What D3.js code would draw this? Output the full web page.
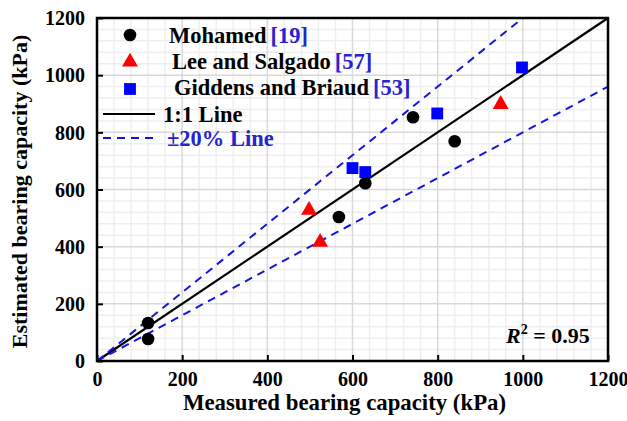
<!DOCTYPE html>
<html>
<head>
<meta charset="utf-8">
<script src="https://cdn.jsdelivr.net/npm/d3@7"></script>
<style>
  html, body { margin: 0; padding: 0; background: #fff; }
  svg { display: block; }
  text { font-family: "Liberation Serif", "Times New Roman", serif; font-weight: bold; }
</style>
</head>
<body>
<svg id="chart" width="627" height="421"></svg>
<script>
// Measured vs estimated bearing capacity (kPa)
const mohamedMeasured = [120, 120, 568, 630, 742, 840];
const mohamedEstimated = [77, 133, 504, 622, 853, 769];
const leeMeasured = [498, 524, 948];
const leeEstimated = [528, 416, 898];
const giddensMeasured = [600, 630, 799, 998];
const giddensEstimated = [675, 661, 866, 1027];
const axisTicks = [0, 200, 400, 600, 800, 1000, 1200];
const rSquared = "0.95";

const blueText = "#2424d0";
const svg = d3.select("#chart");
const m = { left: 97, right: 608, top: 18, bottom: 361 };

const x = d3.scaleLinear().domain([0, 1200]).range([m.left, m.right]);
const y = d3.scaleLinear().domain([0, 1200]).range([m.bottom, m.top]);

// grid: minor every 40, major every 200
const minor = d3.range(0, 1201, 40).filter(v => v % 200 !== 0);
const g = svg.append("g");
g.selectAll(".mvx").data(minor).join("line")
  .attr("x1", d => x(d)).attr("x2", d => x(d)).attr("y1", m.top).attr("y2", m.bottom)
  .attr("stroke", "#efefef").attr("stroke-width", 1.5);
g.selectAll(".mhy").data(minor).join("line")
  .attr("y1", d => y(d)).attr("y2", d => y(d)).attr("x1", m.left).attr("x2", m.right)
  .attr("stroke", "#efefef").attr("stroke-width", 1.5);
g.selectAll(".Mvx").data(axisTicks).join("line")
  .attr("x1", d => x(d)).attr("x2", d => x(d)).attr("y1", m.top).attr("y2", m.bottom)
  .attr("stroke", "#d9d9d9").attr("stroke-width", 1.5);
g.selectAll(".Mhy").data(axisTicks).join("line")
  .attr("y1", d => y(d)).attr("y2", d => y(d)).attr("x1", m.left).attr("x2", m.right)
  .attr("stroke", "#d9d9d9").attr("stroke-width", 1.5);

// axes with inward ticks
const fmt = d3.format("d");
const xAxis = svg.append("g").attr("transform", `translate(0,${m.bottom})`)
  .call(d3.axisBottom(x).tickValues(axisTicks).tickFormat(fmt).tickSizeInner(-6).tickSizeOuter(0).tickPadding(11));
const yAxis = svg.append("g").attr("transform", `translate(${m.left},0)`)
  .call(d3.axisLeft(y).tickValues(axisTicks).tickFormat(fmt).tickSizeInner(-6).tickSizeOuter(0).tickPadding(12));
[xAxis, yAxis].forEach(a => {
  a.select(".domain").remove();
  a.selectAll(".tick line").attr("stroke", "#000").attr("stroke-width", 2);
  a.selectAll(".tick text").attr("font-size", 20).attr("fill", "#000")
    .attr("font-family", "Liberation Serif").attr("font-weight", "bold");
});
xAxis.selectAll(".tick text").attr("dy", "0.71em");
yAxis.selectAll(".tick text").attr("dy", "0.34em");

// reference lines
const lineGen = d3.line().x(d => x(d[0])).y(d => y(d[1]));
svg.append("path").datum([[0, 0], [1200, 1200]]).attr("d", lineGen)
  .attr("stroke", "#000").attr("stroke-width", 2.2).attr("fill", "none");
svg.append("path").datum([[0, 0], [1000, 1200]]).attr("d", lineGen)
  .attr("stroke", "#1515e0").attr("stroke-width", 2).attr("stroke-dasharray", "8,6").attr("fill", "none");
svg.append("path").datum([[0, 0], [1200, 960]]).attr("d", lineGen)
  .attr("stroke", "#1515e0").attr("stroke-width", 2).attr("stroke-dasharray", "8,6").attr("fill", "none");

// frame
svg.append("rect").attr("x", m.left).attr("y", m.top)
  .attr("width", m.right - m.left).attr("height", m.bottom - m.top)
  .attr("fill", "none").attr("stroke", "#000").attr("stroke-width", 2.5);

// data points
const circ = d3.symbol().type(d3.symbolCircle).size(125);
const tri = d3.symbol().type(d3.symbolTriangle).size(110);
const sq = d3.symbol().type(d3.symbolSquare).size(140);
svg.append("g").selectAll("path").data(d3.zip(mohamedMeasured, mohamedEstimated)).join("path")
  .attr("d", circ).attr("transform", d => `translate(${x(d[0])},${y(d[1])})`).attr("fill", "#000");
svg.append("g").selectAll("path").data(d3.zip(leeMeasured, leeEstimated)).join("path")
  .attr("d", tri).attr("transform", d => `translate(${x(d[0])},${y(d[1])})`).attr("fill", "#ff0000");
svg.append("g").selectAll("path").data(d3.zip(giddensMeasured, giddensEstimated)).join("path")
  .attr("d", sq).attr("transform", d => `translate(${x(d[0])},${y(d[1])})`).attr("fill", "#0000ff");

// legend
const leg = svg.append("g");
const fs = 22.5;
leg.append("path").attr("d", circ).attr("transform", "translate(130,35)").attr("fill", "#000");
leg.append("path").attr("d", tri).attr("transform", "translate(130,62)").attr("fill", "#ff0000");
leg.append("path").attr("d", sq).attr("transform", "translate(130,89)").attr("fill", "#0000ff");
function legText(xp, yp, name, ref) {
  const t = leg.append("text").attr("x", xp).attr("y", yp).attr("font-size", fs);
  t.append("tspan").attr("fill", "#000").text(name);
  t.append("tspan").attr("fill", blueText).attr("dx", 4).text(ref);
}
legText(169, 43, "Mohamed", "[19]");
legText(172, 69, "Lee and Salgado", "[57]");
legText(174, 95, "Giddens and Briaud", "[53]");
leg.append("line").attr("x1", 103).attr("x2", 155).attr("y1", 114).attr("y2", 114)
  .attr("stroke", "#000").attr("stroke-width", 2.2);
leg.append("text").attr("x", 163).attr("y", 122).attr("font-size", fs).attr("fill", "#000").text("1:1 Line");
leg.append("line").attr("x1", 103).attr("x2", 155).attr("y1", 138).attr("y2", 138)
  .attr("stroke", "#1515e0").attr("stroke-width", 2).attr("stroke-dasharray", "8,6");
leg.append("text").attr("x", 167).attr("y", 146).attr("font-size", fs).attr("fill", blueText).text("±20% Line");

// R² annotation
const rt = svg.append("text").attr("x", 506).attr("y", 343).attr("font-size", 22).attr("fill", "#000");
rt.append("tspan").attr("font-style", "italic").text("R");
rt.append("tspan").attr("font-size", 14).attr("dy", -9).text("2");
rt.append("tspan").attr("dy", 9).text(" = " + rSquared);

// axis titles
svg.append("text").attr("x", (m.left + m.right) / 2 - 8).attr("y", 410)
  .attr("text-anchor", "middle").attr("font-size", 22.8).attr("fill", "#000")
  .text("Measured bearing capacity (kPa)");
svg.append("text").attr("transform", `translate(27,${(m.top + m.bottom) / 2 + 2}) rotate(-90)`)
  .attr("text-anchor", "middle").attr("font-size", 22).attr("fill", "#000")
  .text("Estimated bearing capacity (kPa)");
</script>
</body>
</html>
